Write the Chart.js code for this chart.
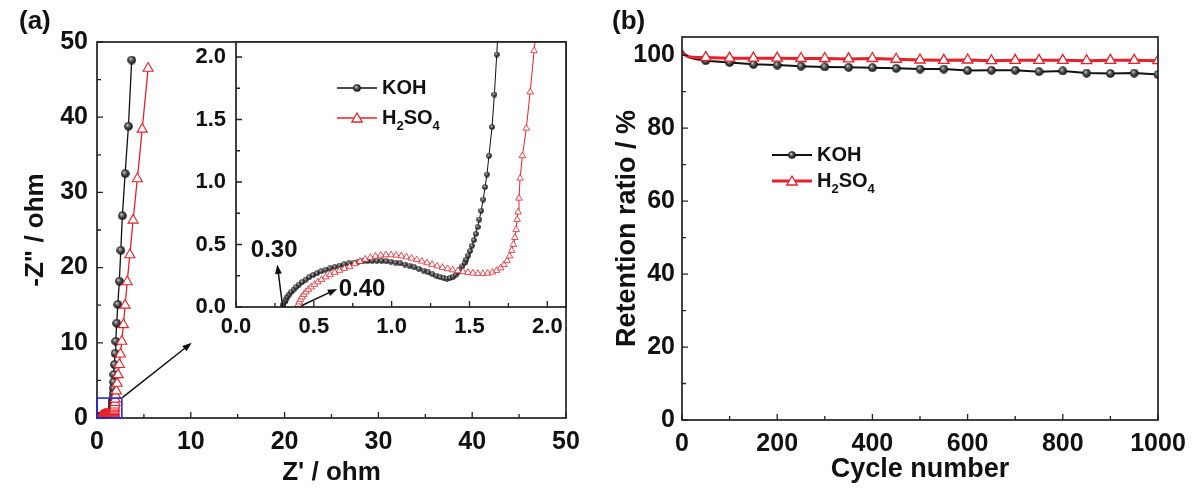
<!DOCTYPE html>
<html>
<head>
<meta charset="utf-8">
<script src="https://cdn.jsdelivr.net/npm/chart.js@4.4.1/dist/chart.umd.min.js"></script>
<style>
html, body { margin: 0; padding: 0; background: #fff; }
#wrap { position: relative; width: 1200px; height: 493px; overflow: hidden; font-family: "Liberation Sans", Arial, sans-serif; }
canvas { position: absolute; top: 0; }
.tag { position: absolute; font-weight: bold; font-size: 26px; color: #111; line-height: 1; }
</style>
</head>
<body>
<div id="wrap">
  <canvas id="eisMain" style="left:0;width:600px;height:493px"></canvas>
  <canvas id="eisInset" style="left:0;width:600px;height:493px"></canvas>
  <canvas id="cycle" style="left:600px;width:600px;height:493px"></canvas>
  <div class="tag" style="left:19px;top:7px">(a)</div>
  <div class="tag" style="left:612px;top:7px">(b)</div>
</div>
<script>
// (a) Nyquist plot, Z' and -Z'' in ohm
var kohZre = [0.300,0.305,0.312,0.320,0.330,0.342,0.355,0.370,0.387,0.405,0.425,0.447,0.470,0.495,0.520,0.547,0.575,0.605,0.635,0.665,
  0.695,0.725,0.755,0.785,0.815,0.845,0.875,0.905,0.935,0.965,0.995,1.025,1.055,1.085,1.115,1.145,1.175,1.205,1.235,1.262,
  1.288,1.312,1.335,1.355,1.375,1.395,1.412,1.428,1.442,1.455,1.468,1.480,1.492,1.504,1.516,1.528,1.540,1.552,1.563,1.575,
  1.588,1.600,1.612,1.625,1.645,1.660,1.675,1.690,1.710,1.730,1.750,1.770,1.800,1.860,1.930,2.000,2.100,2.220,2.380,2.540,
  2.700,3.000,3.350,3.700];
var kohZim = [0.000,0.020,0.040,0.060,0.080,0.100,0.120,0.140,0.160,0.180,0.200,0.220,0.238,0.255,0.270,0.285,0.298,0.310,0.322,0.332,
  0.341,0.349,0.356,0.361,0.365,0.368,0.370,0.370,0.369,0.366,0.362,0.356,0.349,0.340,0.330,0.318,0.305,0.291,0.277,0.263,
  0.250,0.239,0.231,0.228,0.232,0.242,0.258,0.278,0.300,0.325,0.352,0.380,0.412,0.448,0.490,0.535,0.585,0.640,0.700,0.770,
  0.860,0.960,1.060,1.210,1.440,1.700,2.020,2.350,2.750,3.300,4.000,4.800,5.800,7.100,8.600,10.20,12.60,15.10,18.20,22.30,
  26.90,32.50,38.80,47.60];
var acidZre = [0.395,0.400,0.406,0.414,0.424,0.436,0.450,0.466,0.484,0.504,0.526,0.550,0.576,0.604,0.634,0.665,0.697,0.730,0.763,0.797,
  0.830,0.863,0.896,0.930,0.963,0.996,1.029,1.062,1.095,1.128,1.161,1.194,1.227,1.260,1.293,1.326,1.359,1.392,1.425,1.458,
  1.490,1.522,1.554,1.586,1.617,1.647,1.675,1.700,1.722,1.741,1.757,1.771,1.782,1.792,1.800,1.806,1.812,1.818,1.825,1.840,
  1.865,1.890,1.915,1.950,2.000,2.060,2.150,2.250,2.380,2.500,2.640,2.820,3.000,3.220,3.500,3.850,4.300,4.820,5.450];
var acidZim = [0.000,0.020,0.040,0.060,0.080,0.100,0.120,0.140,0.160,0.180,0.200,0.220,0.240,0.258,0.276,0.292,0.308,0.322,0.345,0.365,
  0.382,0.396,0.406,0.413,0.417,0.417,0.414,0.408,0.400,0.390,0.378,0.366,0.353,0.340,0.328,0.316,0.306,0.297,0.289,0.282,
  0.276,0.271,0.268,0.267,0.270,0.278,0.292,0.312,0.338,0.370,0.408,0.452,0.500,0.555,0.620,0.700,0.760,0.870,1.030,1.210,
  1.430,1.720,2.050,2.500,3.000,3.600,4.600,5.750,7.100,8.500,10.20,12.40,15.00,18.10,21.70,26.30,31.80,38.40,46.50];

// (b) capacitance retention, %
var cycles = [0,5,10,15,20,30,50,100,150,200,250,300,350,400,450,500,550,600,650,700,750,800,850,900,950,1000];
var kohRetention = [101.0,100.2,99.7,99.4,99.2,98.9,98.5,98.0,97.5,97.3,97.0,96.8,96.7,96.6,96.4,96.2,96.2,95.8,95.9,95.9,95.5,95.7,95.1,95.0,95.1,94.7];
var acidRetention = [101.2,100.3,99.8,99.6,99.5,99.4,99.4,99.2,99.2,99.2,99.1,99.1,99.0,99.1,98.9,98.7,98.6,98.7,98.5,98.6,98.6,98.6,98.5,98.6,98.6,98.5];

// tick values
var mainTicks = [0, 10, 20, 30, 40, 50];
var mainMinor = [5, 15, 25, 35, 45];
var insetTicks = [0, 0.5, 1.0, 1.5, 2.0];
var insetMinor = [0.25, 0.75, 1.25, 1.75];
var cycleTicks = [0, 200, 400, 600, 800, 1000];
var cycleMinor = [100, 300, 500, 700, 900];
var retTicks = [0, 20, 40, 60, 80, 100];
var retMinor = [10, 30, 50, 70, 90];

var FONT = '"Liberation Sans", Arial, sans-serif';
var RED = '#e8202a';
var INK = '#111';

Chart.defaults.font.family = FONT;
Chart.defaults.font.weight = 'bold';
Chart.defaults.color = INK;

// shaded ball marker like the Origin "half filled" sphere
function ball(d) {
    var c = document.createElement('canvas');
    c.width = c.height = d;
    var g = c.getContext('2d');
    var r = d / 2;
    var grd = g.createRadialGradient(r * 0.72, r * 0.68, 0, r, r, r);
    grd.addColorStop(0, '#f2f2f2');
    grd.addColorStop(0.35, '#6a6a6a');
    grd.addColorStop(1, '#000');
    g.fillStyle = grd;
    g.beginPath();
    g.arc(r, r, r - 0.2, 0, Math.PI * 2);
    g.fill();
    return c;
}
var ballBig = ball(9), ballSmall = ball(6), ballLeg = ball(8);

function pts(xs, ys) {
    return xs.map(function (x, i) { return {x: x, y: ys[i]}; });
}

function triangle(ctx, x, y, r, color, lw) {
    var s = Math.sin(Math.PI / 3) * r;
    ctx.beginPath();
    ctx.moveTo(x, y - r);
    ctx.lineTo(x + s, y + r / 2);
    ctx.lineTo(x - s, y + r / 2);
    ctx.closePath();
    ctx.fillStyle = '#fff';
    ctx.fill();
    ctx.lineWidth = lw;
    ctx.strokeStyle = color;
    ctx.stroke();
}

function arrow(ctx, x1, y1, x2, y2, color, head) {
    var a = Math.atan2(y2 - y1, x2 - x1);
    ctx.save();
    ctx.strokeStyle = color;
    ctx.fillStyle = color;
    ctx.lineWidth = 1.5;
    ctx.beginPath();
    ctx.moveTo(x1, y1);
    ctx.lineTo(x2 - Math.cos(a) * head * 0.6, y2 - Math.sin(a) * head * 0.6);
    ctx.stroke();
    ctx.beginPath();
    ctx.moveTo(x2, y2);
    ctx.lineTo(x2 - head * Math.cos(a - 0.35), y2 - head * Math.sin(a - 0.35));
    ctx.lineTo(x2 - head * Math.cos(a + 0.35), y2 - head * Math.sin(a + 0.35));
    ctx.closePath();
    ctx.fill();
    ctx.restore();
}

// frame round the plot area with inward ticks on bottom and left
var framePlugin = {
    id: 'frame',
    beforeDraw: function (chart, args, o) {
        if (!o.fill) return;
        var a = chart.chartArea, ctx = chart.ctx;
        ctx.save();
        ctx.fillStyle = '#fff';
        ctx.fillRect(a.left, a.top, a.right - a.left, a.bottom - a.top);
        ctx.restore();
    },
    afterDraw: function (chart, args, o) {
        var a = chart.chartArea, ctx = chart.ctx;
        var sx = chart.scales.x, sy = chart.scales.y;
        ctx.save();
        ctx.strokeStyle = '#222';
        ctx.lineWidth = 1.7;
        ctx.strokeRect(a.left, a.top, a.right - a.left, a.bottom - a.top);
        ctx.lineWidth = 1.3;
        ctx.beginPath();
        o.xMajor.concat(o.xMinor).forEach(function (v, i) {
            var len = i < o.xMajor.length ? 6 : 4;
            var px = sx.getPixelForValue(v);
            ctx.moveTo(px, a.bottom);
            ctx.lineTo(px, a.bottom - len);
        });
        o.yMajor.concat(o.yMinor).forEach(function (v, i) {
            var len = i < o.yMajor.length ? 6 : 4;
            var py = sy.getPixelForValue(v);
            ctx.moveTo(a.left, py);
            ctx.lineTo(a.left + len, py);
        });
        ctx.stroke();
        ctx.restore();
    }
};

// legend drawn by hand so that H2SO4 gets its subscripts
var legendPlugin = {
    id: 'subLegend',
    afterDraw: function (chart, args, o) {
        if (!o.x) return;
        var ctx = chart.ctx;
        chart.data.datasets.forEach(function (ds, i) {
            var y = o.y + i * o.gap;
            var lx = o.x, mid = o.x + o.len / 2;
            ctx.save();
            ctx.strokeStyle = ds.borderColor;
            ctx.lineWidth = o.lw[i];
            ctx.beginPath();
            ctx.moveTo(lx, y);
            ctx.lineTo(lx + o.len, y);
            ctx.stroke();
            if (ds.pointStyle === 'triangle') {
                triangle(ctx, mid, y + 1, o.tri, ds.pointBorderColor, 1.3);
            } else {
                ctx.drawImage(ballLeg, mid - 4, y - 4);
            }
            var tx = lx + o.len + 5;
            ctx.fillStyle = INK;
            ctx.textBaseline = 'middle';
            ds.label.split(/(\d)/).forEach(function (p) {
                if (!p) return;
                var sub = /\d/.test(p);
                ctx.font = 'bold ' + (sub ? 13 : o.size) + 'px ' + FONT;
                ctx.fillText(p, tx, y + (sub ? 8 : 0));
                tx += ctx.measureText(p).width;
            });
            ctx.restore();
        });
    }
};

// box and arrow on the main plot, labelled arrows in the inset
var notesPlugin = {
    id: 'notes',
    afterDraw: function (chart, args, o) {
        var ctx = chart.ctx, sx = chart.scales.x, sy = chart.scales.y;
        (o.boxes || []).forEach(function (b) {
            var x1 = sx.getPixelForValue(b[0]), y1 = sy.getPixelForValue(b[1]);
            var x2 = sx.getPixelForValue(b[2]), y2 = sy.getPixelForValue(b[3]);
            ctx.save();
            ctx.strokeStyle = '#2b2bd6';
            ctx.lineWidth = 1.6;
            ctx.strokeRect(x1, y2, x2 - x1, y1 - y2);
            ctx.restore();
        });
        (o.arrows || []).forEach(function (r) {
            arrow(ctx, sx.getPixelForValue(r[0]), sy.getPixelForValue(r[1]),
                sx.getPixelForValue(r[2]), sy.getPixelForValue(r[3]), '#111', 10);
        });
        (o.texts || []).forEach(function (t) {
            ctx.save();
            ctx.font = 'bold 24px ' + FONT;
            ctx.fillStyle = INK;
            ctx.textAlign = 'center';
            ctx.textBaseline = 'middle';
            ctx.fillText(t[0], sx.getPixelForValue(t[1]), sy.getPixelForValue(t[2]));
            ctx.restore();
        });
    }
};

function fixTicks(list) {
    return function (scale) {
        scale.ticks = list.map(function (v) { return {value: v}; });
    };
}

function axis(min, max, ticks, size, pad, title, titleSize, titlePad, fit, fmt) {
    return {
        type: 'linear',
        min: min,
        max: max,
        afterBuildTicks: fixTicks(ticks),
        afterFit: fit,
        grid: {display: false, drawTicks: false, tickLength: 0},
        border: {display: false},
        ticks: {
            font: {size: size, weight: 'bold'},
            color: INK,
            padding: pad,
            maxRotation: 0,
            autoSkip: false,
            callback: fmt || function (v) { return v; }
        },
        title: {
            display: !!title,
            text: title,
            font: {size: titleSize, weight: 'bold'},
            color: INK,
            padding: titlePad
        }
    };
}

function opts(extra) {
    var o = {
        responsive: false,
        animation: false,
        events: []
    };
    for (var k in extra) o[k] = extra[k];
    return o;
}

// panel (a), main plot
new Chart(document.getElementById('eisMain'), {
    type: 'scatter',
    data: {
        datasets: [{
            label: 'KOH', data: pts(kohZre, kohZim), showLine: true,
            borderColor: '#111', borderWidth: 1.3, pointStyle: ballBig, pointRadius: 4, order: 2
        }, {
            label: 'H2SO4', data: pts(acidZre, acidZim), showLine: true,
            borderColor: RED, borderWidth: 1.3, pointStyle: 'triangle', pointRadius: 5.8,
            pointBackgroundColor: '#fff', pointBorderColor: RED, pointBorderWidth: 1.1, order: 1
        }]
    },
    options: opts({
        layout: {padding: {left: 0, top: 42, right: 34, bottom: 0}},
        scales: {
            x: axis(0, 50, mainTicks, 25, 9, "Z' / ohm", 26, {top: 0, bottom: 5},
                function (s) { s.height = 75; }),
            y: axis(0, 50, mainTicks, 25, 9, '-Z" / ohm', 26, {top: 20, bottom: 0},
                function (s) { s.width = 97; })
        },
        plugins: {
            legend: {display: false}, tooltip: {enabled: false},
            frame: {xMajor: mainTicks, xMinor: mainMinor, yMajor: mainTicks, yMinor: mainMinor},
            notes: {boxes: [[0, 0, 2.65, 2.65]], arrows: [[2.7, 2.7, 10.1, 10.0]]}
        }
    }),
    plugins: [framePlugin, notesPlugin]
});

// panel (a), inset
new Chart(document.getElementById('eisInset'), {
    type: 'scatter',
    data: {
        datasets: [{
            label: 'KOH', data: pts(kohZre, kohZim), showLine: true,
            borderColor: '#111', borderWidth: 1, pointStyle: ballSmall, pointRadius: 3, order: 2
        }, {
            label: 'H2SO4', data: pts(acidZre, acidZim), showLine: true,
            borderColor: RED, borderWidth: 1, pointStyle: 'triangle', pointRadius: 3.8,
            pointBackgroundColor: '#fff', pointBorderColor: RED, pointBorderWidth: 0.8, order: 1
        }]
    },
    options: opts({
        layout: {padding: {left: 176, top: 42, right: 34, bottom: 146}},
        scales: {
            x: axis(0, 2.12, insetTicks, 22, 7, '', 10, 0, function (s) { s.height = 40; },
                function (v) { return v.toFixed(1); }),
            y: axis(0, 2.12, insetTicks, 22, 10, '', 10, 0, function (s) { s.width = 60; },
                function (v) { return v.toFixed(1); })
        },
        plugins: {
            legend: {display: false}, tooltip: {enabled: false},
            frame: {fill: true, xMajor: insetTicks, xMinor: insetMinor, yMajor: insetTicks, yMinor: insetMinor},
            notes: {
                arrows: [[0.30, 0.0, 0.265, 0.34], [0.42, 0.01, 0.65, 0.145]],
                texts: [['0.30', 0.245, 0.45], ['0.40', 0.81, 0.145]]
            },
            subLegend: {x: 337, y: 88, gap: 30, len: 40, tri: 6, size: 20, lw: [1.5, 1.5]}
        }
    }),
    plugins: [framePlugin, notesPlugin, legendPlugin]
});

// panel (b), cycling stability
function markEvery50(ctx, r) {
    var c = cycles[ctx.dataIndex];
    return c > 0 && c % 50 === 0 ? r : 0;
}

new Chart(document.getElementById('cycle'), {
    type: 'scatter',
    data: {
        datasets: [{
            label: 'KOH', data: pts(cycles, kohRetention), showLine: true,
            borderColor: '#111', borderWidth: 2, pointStyle: ballBig,
            pointRadius: function (c) { return markEvery50(c, 4.5); }, order: 2
        }, {
            label: 'H2SO4', data: pts(cycles, acidRetention), showLine: true,
            borderColor: RED, borderWidth: 3, pointStyle: 'triangle',
            pointRadius: function (c) { return markEvery50(c, 6); },
            pointBackgroundColor: '#fff', pointBorderColor: RED, pointBorderWidth: 1.3, order: 1
        }]
    },
    options: opts({
        layout: {padding: {left: 0, top: 37, right: 42, bottom: 0}},
        scales: {
            x: axis(0, 1000, cycleTicks, 25, 9, 'Cycle number', 27, {top: 0, bottom: 7},
                function (s) { s.height = 73; }),
            y: axis(0, 105, retTicks, 25, 7, 'Retention ratio / %', 27, {top: 11, bottom: 0},
                function (s) { s.width = 82; })
        },
        plugins: {
            legend: {display: false}, tooltip: {enabled: false},
            frame: {xMajor: cycleTicks, xMinor: cycleMinor, yMajor: retTicks, yMinor: retMinor},
            subLegend: {x: 172, y: 155, gap: 26, len: 40, tri: 6, size: 20, lw: [2, 3]}
        }
    }),
    plugins: [framePlugin, legendPlugin]
});
</script>
</body>
</html>
